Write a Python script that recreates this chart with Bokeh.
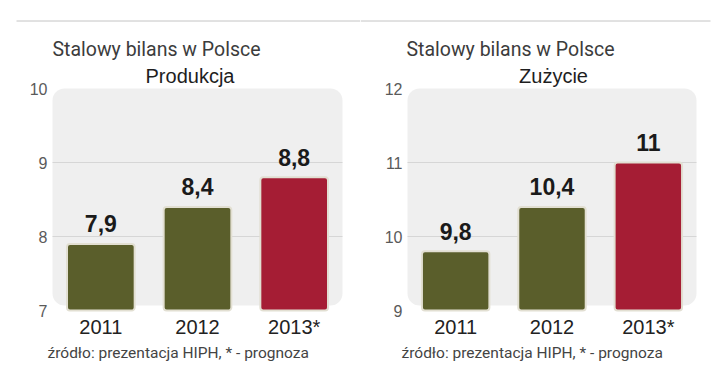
from bokeh.plotting import figure
from bokeh.models import Range1d, BoxAnnotation, Label
from bokeh.layouts import row
from bokeh.embed import file_html
from bokeh.resources import INLINE
from bokeh.core.properties import value

# ---- data ----
years = ["2011", "2012", "2013*"]
production = [7.9, 8.4, 8.8]
consumption = [9.8, 10.4, 11.0]
bar_colors = ["#5a5e2b", "#5a5e2b", "#a51d34"]
title_main = "Stalowy bilans w Polsce"
subtitles = ["Produkcja", "Zużycie"]
source_note = "źródło: prezentacja HIPH, * - prognoza"
prod_ticks = [7, 8, 9, 10]
cons_ticks = [9, 10, 11, 12]

PANEL_W = 360
PANEL_H = 374
FRAME_TOP = 88         # canvas y of value-axis top
FRAME_BOT = 310        # canvas y of value-axis bottom


def fmt(v):
    return ("%g" % v).replace(".", ",")


def make_panel(values, ticks, subtitle, x0, frame_l, frame_r, title_x, sub_cx, src_x):
    n = len(years)
    u = (frame_r - frame_l) / n
    v = (FRAME_BOT - FRAME_TOP) / (ticks[-1] - ticks[0])

    def dx(px):
        return (px - frame_l) / u

    def dy(py):
        return ticks[0] + (FRAME_BOT - py) / v

    p = figure(width=PANEL_W, height=PANEL_H,
               x_range=Range1d(dx(x0), dx(x0 + PANEL_W)),
               y_range=Range1d(dy(PANEL_H), dy(0)),
               x_axis_location=None, y_axis_location=None,
               output_backend="svg", toolbar_location=None, min_border=0)
    p.grid.visible = False
    p.outline_line_color = None
    p.background_fill_color = "white"
    p.border_fill_color = "white"

    xs = [i + 0.5 for i in range(n)]

    # top rule
    p.segment(x0=dx(max(16, x0)), x1=dx(min(710, x0 + PANEL_W)), y0=dy(20.5), y1=dy(20.5),
              line_color="#c4c4c4", line_width=1)

    # grey rounded background
    p.add_layout(BoxAnnotation(left=0, right=n, bottom=dy(305), top=ticks[-1],
                               fill_color="#efefef", fill_alpha=1, line_color=None,
                               border_radius=12, level="image"))
    # grid lines
    p.segment(x0=0, x1=n, y0=ticks[1:-1], y1=ticks[1:-1], line_color="#d6d6d6",
              line_width=1, level="underlay")

    # bars
    p.vbar(x=xs, top=values, bottom=ticks[0], width=0.70, fill_color=bar_colors,
           line_color="#e2dfd2", line_width=2, border_radius=3)
    p.text(x=xs, y=[val + 20 / v for val in values], text=[fmt(val) for val in values],
           text_font=value("Liberation Sans"), text_font_style="bold",
           text_font_size="23px", text_align="center", text_baseline="middle",
           text_color="#1a1a1a")

    # value-axis tick labels
    p.text(x=dx(frame_l - 5), y=ticks, text=[str(t) for t in ticks],
           text_font=value("Liberation Sans"), text_font_size="16px",
           text_color="#5a5a5a", text_align="right", text_baseline="middle")
    # category labels
    p.text(x=xs, y=dy(326), text=years,
           text_font=value("Liberation Sans"), text_font_size="20px",
           text_color="#222222", text_align="center", text_baseline="middle")

    # titles and source
    p.add_layout(Label(x=dx(title_x), y=dy(49), text=title_main,
                       text_font="Roboto", text_font_size="19.5px",
                       text_color="#3c3c3c", text_align="left",
                       text_baseline="middle"))
    p.add_layout(Label(x=dx(sub_cx), y=dy(75), text=subtitle,
                       text_font="Liberation Sans", text_font_size="20px",
                       text_color="#1e1e1e", text_align="center",
                       text_baseline="middle"))
    p.add_layout(Label(x=dx(src_x), y=dy(352), text=source_note,
                       text_font="Roboto", text_font_size="15.5px",
                       text_color="#444444", text_align="left",
                       text_baseline="middle"))
    return p


p1 = make_panel(production, prod_ticks, subtitles[0], 0, 52, 342, 52, 189.5, 47)
p2 = make_panel(consumption, cons_ticks, subtitles[1], 360, 407, 696, 406, 553, 401)

layout = row(p1, p2)

open("out.html", "w").write(file_html(layout, INLINE))
